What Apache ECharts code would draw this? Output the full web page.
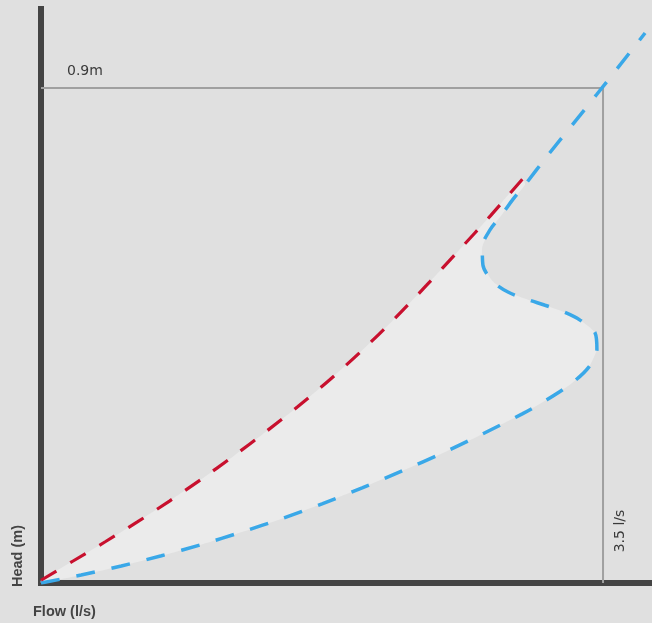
<!DOCTYPE html>
<html>
<head>
<meta charset="utf-8">
<script src="https://cdn.jsdelivr.net/npm/echarts@6/dist/echarts.min.js"></script>
<style>html,body{margin:0;padding:0;background:#e0e0e0;}#c{width:652px;height:623px;}</style>
</head>
<body>
<div id="c"></div>
<script>
// Flow (l/s) vs Head (m)
const maxFlow = 3.5;      // l/s
const maxHead = 0.9;      // m
const flowLabel = '3.5 l/s';
const headLabel = '0.9m';
const xTitle = 'Flow (l/s)';
const yTitle = 'Head (m)';
const noteLines = ['Volume of water passing', 'out of system not retained', 'in storage'];

// red dashed curve [flow, head]
const redCurve = [
  [0, 0.005], [0.2, 0.040], [0.4, 0.075], [0.6, 0.111], [0.8, 0.149],
  [1.0, 0.189], [1.2, 0.231], [1.4, 0.275], [1.6, 0.321], [1.8, 0.370],
  [2.0, 0.423], [2.2, 0.480], [2.4, 0.541], [2.6, 0.604], [2.8, 0.668], [3.0, 0.735]
];
// blue dashed curve [flow, head]
const blueCurve = [
  [0, 0], [0.25, 0.0144], [0.5, 0.031], [0.75, 0.0495], [1.0, 0.070],
  [1.25, 0.0927], [1.5, 0.117], [1.75, 0.144], [2.0, 0.173], [2.25, 0.204],
  [2.5, 0.236], [2.75, 0.271], [3.0, 0.308], [3.15, 0.333], [3.3, 0.362],
  [3.41, 0.392], [3.462, 0.425], [3.45, 0.455], [3.357, 0.478], [3.263, 0.492],
  [3.139, 0.505], [3.033, 0.515], [2.908, 0.529], [2.815, 0.548], [2.752, 0.578],
  [2.748, 0.611], [2.796, 0.642], [2.871, 0.670], [2.94, 0.698], [3.014, 0.724],
  [3.157, 0.778], [3.463, 0.889], [3.762, 1.0]
];
const blueJoinIndex = 29; // point where blue meets the red curve end

const boxLine = [[0, maxHead], [maxFlow, maxHead], [maxFlow, 0]];
const fillPoly = redCurve.concat(blueCurve.slice(0, blueJoinIndex + 1).reverse());

const chart = echarts.init(document.getElementById('c'));
const labelFont = 'DejaVu Sans, sans-serif';
const boldFont = 'Liberation Sans, Arial, sans-serif';
chart.setOption({
  backgroundColor: '#e0e0e0',
  animation: false,
  grid: { left: 41, right: 0, top: 9, bottom: 40 },
  xAxis: {
    type: 'value', min: 0, max: 3.805, offset: 3,
    axisLine: { show: true, lineStyle: { color: '#444444', width: 6, cap: 'square' } },
    axisTick: { show: false }, axisLabel: { show: false }, splitLine: { show: false }
  },
  yAxis: {
    type: 'value', min: 0, max: 1.0436, offset: 3,
    axisLine: { show: true, lineStyle: { color: '#444444', width: 6, cap: 'square' } },
    axisTick: { show: false }, axisLabel: { show: false }, splitLine: { show: false }
  },
  series: [
    {
      type: 'custom', z: 1, silent: true,
      data: [0],
      renderItem: function (params, api) {
        return {
          type: 'polygon',
          shape: { points: fillPoly.map(p => api.coord(p)), smooth: 0.2 },
          style: { fill: '#ebebeb', stroke: null }
        };
      }
    },
    {
      type: 'line', z: 2, data: boxLine, symbol: 'none', silent: true,
      lineStyle: { color: '#a0a0a0', width: 2 }
    },
    {
      type: 'line', z: 3, data: blueCurve, symbol: 'none', smooth: 0.3, silent: true,
      lineStyle: { color: '#3aa8e8', width: 3.5, type: [19, 17] }
    },
    {
      type: 'line', z: 4, data: redCurve, symbol: 'none', smooth: 0.3, silent: true,
      lineStyle: { color: '#c8102e', width: 3.2, type: [18, 16] }
    }
  ],
  graphic: [
    { type: 'text', left: 67, top: 64, style: { text: headLabel, font: '14px ' + labelFont, fill: '#3a3a3a' } },
    { type: 'text', x: 620, y: 531, rotation: Math.PI / 2,
      style: { text: flowLabel, font: '14px ' + labelFont, fill: '#3a3a3a', align: 'center', verticalAlign: 'middle' } },
    { type: 'text', left: 33, top: 604, style: { text: xTitle, font: 'bold 14.5px ' + boldFont, fill: '#444444' } },
    { type: 'text', x: 18, y: 556, rotation: Math.PI / 2,
      style: { text: yTitle, font: 'bold 14.5px ' + boldFont, fill: '#444444', align: 'center', verticalAlign: 'middle' } },
    { type: 'text', left: 399, top: 338,
      style: { text: noteLines.join('\n'), font: 'bold 13px ' + boldFont, lineHeight: 17.5, fill: '#1a1a1a' } }
  ]
});
</script>
</body>
</html>
